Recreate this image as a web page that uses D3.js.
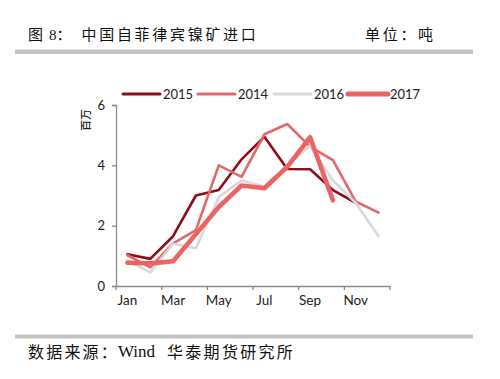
<!DOCTYPE html>
<html><head><meta charset="utf-8">
<script src="https://cdn.jsdelivr.net/npm/d3@7"></script>
<style>body{margin:0;background:#fff}svg{display:block}</style>
</head><body>
<svg id="c" width="500" height="379"></svg>
<script>
const months = ["Jan","Feb","Mar","Apr","May","Jun","Jul","Aug","Sep","Oct","Nov","Dec"];
const tickLabels = ["Jan","Mar","May","Jul","Sep","Nov"];
const yTicks = [0,2,4,6];
const seriesNames = ["2015","2014","2016","2017"];
const v2015 = [1.05,0.90,1.65,3.00,3.18,4.20,4.95,3.88,3.87,3.18,2.76,null];
const v2014 = [1.02,0.62,1.41,1.85,4.00,3.62,5.03,5.37,4.62,4.17,2.80,2.43];
const v2016 = [0.85,0.45,1.40,1.25,2.95,3.50,3.30,4.00,4.65,3.50,2.75,1.65];
const v2017 = [0.77,0.75,0.82,1.72,2.62,3.33,3.24,3.95,4.93,2.84,null,null];
const colors = ["#8c0d1c","#e06a6a","#d9d9d9","#ec6363"];
const widths = [2.6,2.6,2.6,4.6];

const svg = d3.select("#c");
const cjk = "'Liberation Serif','Noto Sans CJK SC','Noto Sans CJK JP',serif";
const cjkSans = "'Noto Sans CJK SC','Noto Sans CJK JP',sans-serif";
const latin = "Lato,'DejaVu Sans',sans-serif";

function txt(x0, y0, s, size, ls) {
  return svg.append("text").attr("x",x0).attr("y",y0).attr("font-family",cjk).attr("font-size",size)
    .attr("letter-spacing",ls||0).attr("fill","#111").text(s);
}
// header
txt(28,40,"图",15,0);
txt(49,40,"8：",15,0);
txt(81.5,40,"中国自菲律宾镍矿进口",15,2.7);
txt(365,40,"单位：吨",15,2.7);
svg.append("rect").attr("x",15).attr("y",49.5).attr("width",458).attr("height",4.5).attr("fill","#c3c3c3");
svg.append("rect").attr("x",15).attr("y",334.5).attr("width",458).attr("height",4).attr("fill","#c3c3c3");
// footer
txt(28,358,"数据来源：",16,2.2);
txt(118,357,"Wind",17,0);
txt(167,358,"华泰期货研究所",16,2.3);

// scales
const x = d3.scaleBand().domain(months).range([116,390]);
const y = d3.scaleLinear().domain([0,6]).range([286,105]);

// y axis
const ya = svg.append("g").attr("transform","translate(116,0)")
  .call(d3.axisLeft(y).tickValues(yTicks).tickSize(4).tickPadding(7).tickFormat(d3.format("d")));
ya.select(".domain").attr("stroke","#8a8a8a").attr("stroke-width",1.3);
ya.selectAll(".tick line").attr("stroke","#8a8a8a").attr("stroke-width",1.3);
ya.selectAll("text").attr("font-family",latin).attr("font-size",13).attr("fill","#222");

// x axis
const xa = svg.append("g").attr("transform","translate(0,286)")
  .call(d3.axisBottom(x).tickValues([]).tickSizeOuter(0));
xa.select(".domain").attr("stroke","#8a8a8a").attr("stroke-width",1.3);
const bounds = d3.range(0, months.length + 1, 2).map(i => i < months.length ? x(months[i]) : x.range()[1]);
xa.selectAll("line.tk").data(bounds).join("line").attr("class","tk")
  .attr("x1",d=>d).attr("x2",d=>d).attr("y1",0).attr("y2",4).attr("stroke","#8a8a8a").attr("stroke-width",1.3);
xa.selectAll("text.lb").data(tickLabels).join("text").attr("class","lb")
  .attr("x",d=>x(d)+x.bandwidth()/2).attr("y",19).attr("text-anchor","middle")
  .attr("font-family",latin).attr("font-size",13.5).attr("fill","#222").text(d=>d);

// y title
svg.append("text").attr("transform","translate(90,120) rotate(-90)").attr("text-anchor","middle")
  .attr("font-family",cjkSans).attr("font-size",11).attr("font-weight",500).attr("fill","#222").text("百万");

// lines
const all = [v2015,v2014,v2016,v2017];
const line = d3.line().defined(d=>d!=null).x((d,i)=>x(months[i])+x.bandwidth()/2).y(d=>y(d));
all.forEach((vals,k)=>{
  svg.append("path").datum(vals).attr("d",line).attr("fill","none")
    .attr("stroke",colors[k]).attr("stroke-width",widths[k]).attr("stroke-linejoin","round").attr("stroke-linecap","round");
});

// legend
const legX = [123,198,274,348];
const leg = svg.append("g");
seriesNames.forEach((n,k)=>{
  leg.append("line").attr("x1",legX[k]).attr("x2",legX[k]+(k==3?40:37)).attr("y1",94).attr("y2",94)
    .attr("stroke",colors[k]).attr("stroke-width",k==3?5:3).attr("stroke-linecap","round");
  leg.append("text").attr("x",legX[k]+(k==3?42:40)).attr("y",99).attr("font-family",latin).attr("font-size",13).attr("fill","#222").text(n);
});
</script>
</body></html>
